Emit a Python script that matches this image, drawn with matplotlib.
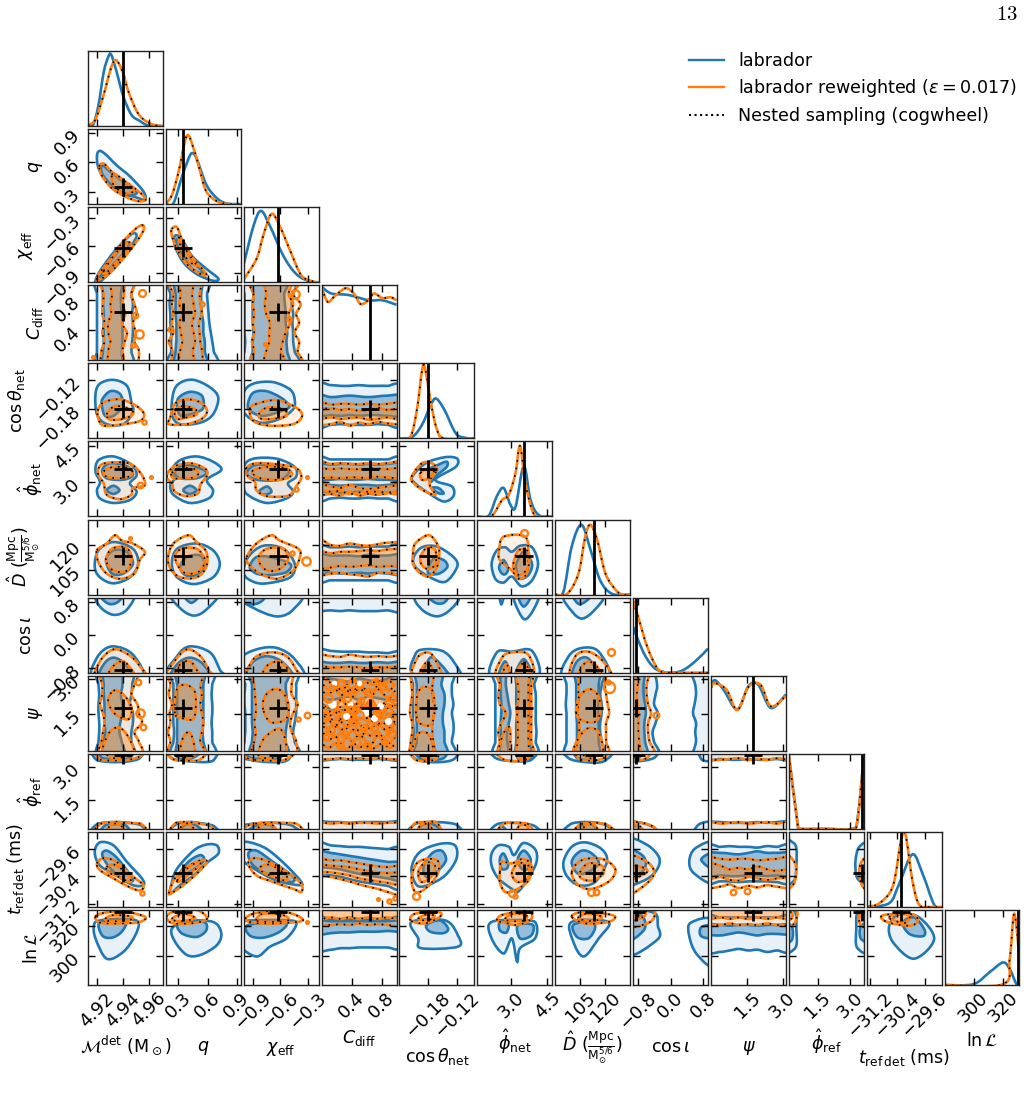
import numpy as np
import matplotlib
matplotlib.use("Agg")
import matplotlib.pyplot as plt
from matplotlib.path import Path
from matplotlib.patches import PathPatch
from matplotlib.lines import Line2D

# parameter order, plot ranges, injected values
names = ['Mc', 'q', 'chi', 'C', 'cth', 'phn', 'D', 'ci', 'psi', 'phr', 't', 'L']
labels = [r'$\mathcal{M}^{\rm det}$ (M$_\odot$)', r'$q$', r'$\chi_{\rm eff}$', r'$C_{\rm diff}$',
          r'$\cos\theta_{\rm net}$', r'$\hat{\phi}_{\rm net}$',
          r'$\hat{D}$ $(\frac{\rm Mpc}{\rm M_{\odot}^{5/6}})$', r'$\cos\iota$', r'$\psi$',
          r'$\hat{\phi}_{\rm ref}$', r'$t_{\rm ref\,det}$ (ms)', r'$\ln\mathcal{L}$']
lows = [4.913, 0.173, -0.998, 0.0, -0.24, 1.58, 90.0, -0.91, -0.05, 0.15, -31.3, 280.7]
highs = [4.971, 0.94, -0.18, 1.0, -0.085, 4.71, 135.0, 0.91, 3.14, 3.63, -29.1, 330.7]
truths = [4.94, 0.35, -0.62, 0.64, -0.18, 3.54, 113.4, -0.85, 1.75, 3.55, -30.3, 329.5]
ticks = [[4.92, 4.94, 4.96], [0.3, 0.6, 0.9], [-0.9, -0.6, -0.3], [0.4, 0.8], [-0.18, -0.12],
         [3.0, 4.5], [105, 120], [-0.8, 0.0, 0.8], [1.5, 3.0], [1.5, 3.0], [-31.2, -30.4, -29.6], [300, 320]]
tick_text = [['4.92', '4.94', '4.96'], ['0.3', '0.6', '0.9'], ['\u22120.9', '\u22120.6', '\u22120.3'],
             ['0.4', '0.8'], ['\u22120.18', '\u22120.12'], ['3.0', '4.5'], ['105', '120'],
             ['\u22120.8', '0.0', '0.8'], ['1.5', '3.0'], ['1.5', '3.0'],
             ['\u221231.2', '\u221230.4', '\u221229.6'], ['300', '320']]
xlabel_pads = [2, 12, 5, 4, 4, 4, 2, 4, 12, 4, 4, 4]

# marginals: flat x,y pairs, x in percent of the range, y in percent of panel height
marg_blue = [
    [0,0, 7,2, 14,28, 21,72, 27,92, 31,95, 38,73, 47,40, 58,15, 69,7, 80,1, 100,0],
    [0,0, 10,1, 21,35, 30,60, 35,68, 41,61, 54,26, 68,8, 81,1, 100,0],
    [0,24, 13,75, 23,95, 35,75, 53,35, 70,11, 88,1, 100,0],
    [0,98, 13,89, 36,87, 63,80, 81,80, 100,74],
    [0,0, 17,2, 30,18, 42,45, 49,53, 60,38, 75,7, 87,1, 100,0],
    [0,0, 15,1, 26,27, 35,38, 44,16, 51,13, 62,67, 71,22, 82,2, 100,0],
    [0,0, 11,4, 22,64, 35,93, 47,60, 60,19, 76,1, 100,0],
    [0,61, 6,45, 17,21, 30,5, 48,0, 66,3, 84,16, 100,32],
    [0,84, 5,94, 17,81, 35,55, 50,86, 63,88, 80,57, 100,75],
    [0,98, 12,4, 15,0, 50,0, 85,0, 92,15, 100,95],
    [0,0, 30,5, 43,30, 61,70, 75,43, 90,3, 100,0],
    [0,0, 38,1, 60,17, 78,30, 87,21, 96,1, 100,0],
]
marg_orange = [
    [0,1, 10,9, 21,42, 30,75, 37,88, 46,73, 54,46, 65,20, 74,9, 87,2, 100,0],
    [0,1, 8,12, 17,43, 28,91, 37,74, 46,43, 54,17, 68,4, 85,0, 100,0],
    [0,4, 17,31, 26,62, 37,91, 48,75, 62,42, 77,9, 93,1, 100,0],
    [0,98, 8,78, 18,86, 32,96, 43,89, 52,75, 62,80, 70,89, 81,83, 92,84, 100,80],
    [0,0, 15,3, 24,43, 30,90, 34,94, 42,47, 50,12, 60,0, 100,0],
    [0,0, 19,1, 33,22, 42,29, 51,58, 57,94, 64,45, 75,4, 88,0, 100,0],
    [0,0, 16,1, 31,28, 40,77, 47,93, 56,73, 67,28, 81,6, 90,0, 100,0],
    [0,96, 8,70, 19,34, 33,5, 48,0, 75,0, 100,0],
    [0,84, 5,90, 21,81, 35,54, 50,85, 66,88, 80,59, 100,73],
    [0,98, 12,4, 15,0, 50,0, 85,0, 92,15, 100,95],
    [0,0, 17,5, 35,28, 46,90, 52,95, 61,35, 70,3, 85,0, 100,0],
    [0,0, 78,1, 87,35, 93,95, 100,35],
]

TOP = [108] * 9
BOT = [-8] * 9
band_pos = [-5, 12, 25, 37, 50, 62, 75, 88, 105]


def H(top, bot):
    # horizontal band from its upper and lower edge, read across the panel
    return [v for x, y in zip(band_pos, top) for v in (x, y)] + [v for x, y in zip(band_pos[::-1], bot[::-1]) for v in (x, y)]


def V(left, right):
    # vertical band from its left and right edge, read up the panel
    return [v for x, y in zip(right, band_pos) for v in (x, y)] + [v for x, y in zip(left[::-1], band_pos[::-1]) for v in (x, y)]


# credible regions per (row, col): closed outlines as flat x,y percent pairs
blue90 = {
    (1,0): [[12,65, 16,71, 25,65, 38,52, 56,37, 74,17, 76,6, 61,10, 43,15, 25,30, 14,48]],
    (2,0): [[10,2, 16,15, 36,42, 58,64, 65,62, 58,49, 38,22, 20,4, 12,-2]],
    (2,1): [[12,62, 21,58, 35,35, 54,18, 70,5, 63,2, 41,11, 23,27, 12,49]],
    (3,0): [V([13,12,12,12,12,12,12,12,12], [58,58,59,60,60,59,60,58,58])],
    (3,1): [V([6,7,7,7,6,6,5,6,5], [66,64,62,60,58,57,56,55,55])],
    (3,2): [V([1,1,2,1,1,1,1,1,1], [70,68,66,66,65,66,64,66,65])],
    (4,0): [[10,59, 16,73, 34,78, 52,70, 58,48, 60,35, 47,19, 25,19, 12,32]],
    (4,1): [[10,61, 19,74, 37,78, 59,68, 70,54, 63,32, 46,21, 19,19, 8,32]],
    (4,2): [[0,61, 13,73, 39,75, 62,65, 68,52, 66,39, 48,26, 22,21, 0,35]],
    (4,3): [H([70,71,70,70,71,70,70,70,69], [18,18,19,18,18,18,19,18,18])],
    (5,0): [[10,60, 14,75, 34,80, 58,69, 65,55, 56,44, 65,33, 56,22, 34,18, 16,24, 12,35, 16,46]],
    (5,1): [[8,62, 19,75, 41,80, 63,73, 74,62, 55,49, 63,35, 57,24, 32,18, 10,29, 6,42, 12,51]],
    (5,2): [[0,66, 13,77, 44,77, 68,66, 70,53, 59,44, 66,33, 57,24, 31,18, 8,27, 0,38]],
    (5,3): [H([76,76,76,76,76,76,76,76,76], [24,24,25,24,24,25,24,24,24])],
    (5,4): [[17,53, 35,71, 61,79, 77,77, 75,66, 48,49, 70,40, 72,27, 59,20, 39,31, 21,44]],
    (6,0): [[9,37, 14,59, 34,70, 60,61, 67,41, 56,23, 34,15, 16,23]],
    (6,1): [[8,41, 15,61, 41,68, 63,59, 72,41, 63,23, 37,14, 15,23]],
    (6,2): [[0,28, 6,50, 26,65, 53,61, 68,41, 62,23, 31,15, 13,17]],
    (6,3): [H([63,63,63,64,63,64,64,64,64], [19,19,19,19,19,19,19,19,19])],
    (6,4): [[19,50, 30,63, 50,64, 72,50, 77,37, 61,17, 39,24, 21,37]],
    (6,5): [[19,41, 26,59, 37,63, 46,57, 57,65, 73,63, 81,41, 73,19, 59,11, 46,24, 35,16, 24,21]],
    (7,0): [[12,106, 16,88, 34,77, 52,84, 60,106], [8,-9, 12,20, 32,35, 60,24, 72,-9]],
    (7,1): [[8,106, 19,86, 37,76, 54,84, 68,106], [1,-9, 15,22, 32,35, 59,27, 72,4, 77,-9]],
    (7,2): [[-5,108, -5,97, 26,80, 48,75, 66,84, 75,106], [-5,-9, -5,18, 17,31, 44,33, 68,18, 77,-9]],
    (7,3): [H(TOP, [84,83,82,83,82,82,82,83,82]), H([29,29,28,28,28,27,27,26,26], BOT)],
    (7,4): [[23,102, 30,84, 50,75, 68,84, 77,102], [19,-2, 21,24, 32,31, 57,29, 72,15, 79,-7]],
    (7,5): [[29,108, 32,91, 36,108], [50,102, 55,82, 64,71, 75,84, 80,102], [19,-7, 26,27, 46,28, 73,29, 80,-7]],
    (7,6): [[13,102, 22,82, 36,72, 53,84, 62,102], [11,-7, 18,22, 36,33, 58,28, 71,-7]],
    (8,0): [V([14,14,15,15,14,14,15,14,14], [60,58,58,60,60,56,58,59,58])],
    (8,1): [V([10,10,11,10,10,10,10,10,10], [64,62,62,61,62,62,61,62,62])],
    (8,2): [V([2,1,2,2,2,1,1,2,2], [70,68,66,68,70,70,70,70,68])],
    (8,3): [H(TOP, BOT)],
    (8,4): [V([19,18,19,18,18,18,18,18,19], [72,70,72,72,70,72,70,70,70])],
    (8,5): [V([24,24,24,24,24,24,24,24,24], [78,78,79,78,78,78,78,76,76])],
    (8,6): [V([15,15,15,15,15,14,15,15,15], [62,62,60,60,62,62,60,62,62])],
    (8,7): [V(BOT, [33,28,26,30,33,28,30,32,25]), V([82,84,83,84,80,82,84,83,80], TOP)],
    (9,0): [[10,108, 10,93, 30,89, 55,90, 70,95, 70,108], [8,-8, 12,6, 35,9, 55,8, 72,4, 74,-8]],
    (9,1): [[5,108, 8,94, 30,90, 55,89, 65,93, 66,108], [8,-8, 12,5, 30,9, 50,7, 65,3, 67,-8]],
    (9,2): [[-5,108, -5,96, 20,90, 50,89, 62,95, 64,108], [-5,-8, -5,3, 15,7, 40,8, 65,4, 70,-8]],
    (9,3): [H(TOP, [92,92,93,92,92,92,93,92,92]), H([9,9,9,8,9,9,9,9,9], BOT)],
    (9,4): [[16,108, 20,94, 40,89, 65,90, 76,96, 78,108], [15,-8, 20,6, 40,9, 65,8, 78,4, 80,-8]],
    (9,5): [[20,108, 25,94, 50,90, 72,92, 78,108], [20,-8, 26,6, 50,8, 76,4, 80,-8]],
    (9,6): [[14,108, 18,94, 40,89, 65,90, 76,108], [14,-8, 20,6, 40,9, 65,6, 80,-8]],
    (9,7): [[-8,108, -8,91, 15,91, 30,96, 32,108], [-8,-8, -8,9, 15,7, 30,0, 30,-8],
            [82,-8, 88,6, 108,9, 108,-8], [88,108, 92,92, 108,92, 108,108]],
    (9,8): [H(TOP, [92,93,92,92,93,92,92,93,92]), H([8,9,8,8,8,9,8,9,9], BOT)],
    (10,0): [[9,73, 16,86, 34,82, 52,60, 72,38, 74,29, 60,29, 38,42, 16,55]],
    (10,1): [[8,33, 15,51, 37,75, 54,83, 68,82, 70,71, 54,58, 37,42, 19,29, 6,18]],
    (10,2): [[-3,84, 8,86, 31,77, 57,55, 77,33, 73,29, 44,35, 17,49, -3,64]],
    (10,3): [H([84,82,81,80,80,79,78,77,76], [46,42,40,37,34,32,30,28,26])],
    (10,4): [[16,51, 27,73, 54,84, 74,82, 76,64, 61,42, 38,29, 23,29]],
    (10,5): [[19,71, 28,82, 42,80, 49,69, 61,85, 77,77, 79,60, 68,38, 54,20, 46,24, 28,38, 19,55]],
    (10,6): [[11,60, 22,80, 40,86, 62,77, 69,60, 53,33, 31,29, 15,42]],
    (10,7): [[-8,88, 18,83, 35,65, 30,47, 12,34, -8,33], [108,84, 83,78, 75,61, 81,45, 108,33]],
    (10,8): [H([80,80,81,80,80,79,81,80,80], [34,34,34,33,34,34,34,33,34])],
    (10,9): [[-8,88, 5,86, 10,78, 10,55, 7,35, -8,33], [108,83, 94,80, 89,62, 90,42, 96,34, 108,33]],
    (11,0): [[8,80, 10,62, 25,35, 47,44, 63,66, 67,84, 47,88, 16,86]],
    (11,1): [[8,75, 12,58, 28,40, 46,40, 68,53, 74,69, 63,84, 28,85]],
    (11,2): [[-5,53, 17,38, 35,51, 57,62, 70,80, 62,86, 8,86, -5,80]],
    (11,3): [H([88,88,88,88,88,88,88,88,88], [48,47,49,49,50,50,50,50,50])],
    (11,4): [[16,84, 25,62, 29,49, 78,51, 78,66, 61,86]],
    (11,5): [[19,84, 19,62, 35,42, 46,62, 53,31, 57,49, 77,62, 79,80, 68,86]],
    (11,6): [[22,84, 24,58, 38,38, 58,62, 71,84]],
    (11,7): [[-8,40, 33,61, 33,79, 28,96, -8,96], [108,85, 77,83, 75,65, 85,41, 108,26]],
    (11,8): [H([90,90,90,90,90,90,90,90,90], [46,44,46,48,46,47,44,46,46])],
    (11,9): [[-8,100, 8,98, 10,75, 9,50, -8,46], [108,105, 92,98, 90,75, 91,50, 108,46]],
    (11,10): [[30,79, 35,57, 63,35, 90,61, 70,90, 43,94]],
}
blue50 = {
    (1,0): [[19,52, 30,43, 47,30, 65,17, 58,12, 41,17, 25,32, 18,43]],
    (2,0): [[16,7, 25,22, 47,49, 54,53, 52,44, 34,24, 21,9]],
    (2,1): [[15,58, 23,49, 37,27, 50,13, 39,15, 26,29, 15,49]],
    (3,0): [V([20,20,21,21,21,21,20,20,20], [44,45,46,46,46,45,44,44,44])],
    (3,1): [V([14,13,14,14,14,13,13,13,13], [53,52,52,50,50,48,47,47,46])],
    (3,2): [V([12,12,12,13,12,12,12,13,12], [58,58,57,58,56,56,55,54,56])],
    (4,0): [[19,52, 30,63, 43,59, 46,43, 34,30, 23,30, 19,41]],
    (4,1): [[17,54, 32,62, 48,57, 50,41, 41,35, 21,30, 15,41]],
    (4,2): [[6,48, 13,61, 30,63, 50,54, 61,43, 52,37, 26,30, 8,37]],
    (4,3): [H([57,55,56,57,56,55,56,57,56], [31,31,30,31,30,31,31,30,31])],
    (5,0): [[19,62, 30,71, 54,66, 60,55, 47,49, 25,51], [25,35, 34,41, 42,35, 34,30]],
    (5,1): [[12,60, 26,69, 46,64, 55,58, 41,51, 19,51], [23,35, 32,41, 41,35, 32,30]],
    (5,2): [[4,58, 17,69, 48,66, 61,60, 48,49, 17,49], [20,33, 31,40, 37,33, 28,29]],
    (5,3): [H([70,69,70,70,69,70,69,70,70], [49,49,50,49,49,50,49,49,49]), H([42,42,41,42,42,42,41,42,42], [33,33,32,32,33,32,33,32,33])],
    (5,4): [[39,62, 52,69, 63,73, 63,66, 50,55, 41,46], [43,38, 52,38, 59,31, 52,31]],
    (6,0): [[24,46, 34,59, 52,57, 60,41, 47,28, 32,28]],
    (6,1): [[19,37, 28,50, 46,52, 52,37, 41,26, 26,26]],
    (6,2): [[8,37, 17,50, 35,50, 62,41, 57,30, 35,26, 17,28]],
    (6,3): [H([53,52,52,52,51,53,52,52,52], [29,29,28,28,29,28,29,28,28])],
    (6,4): [[39,37, 46,48, 59,46, 64,37, 53,28, 39,28]],
    (6,5): [[29,37, 35,46, 41,34, 37,27, 32,29], [52,41, 62,57, 73,41, 68,26, 57,21, 53,30]],
    (7,0): [[18,102, 27,92, 38,93, 45,102], [16,-9, 21,11, 34,20, 50,11, 58,-9]],
    (7,1): [[23,106, 34,93, 46,106], [8,-9, 15,11, 32,20, 50,11, 57,-9]],
    (7,2): [[-5,95, 13,91, 26,97, 26,106, -5,106], [6,-9, 11,13, 31,22, 53,13, 64,-9]],
    (7,3): [H([13,13,13,14,13,13,14,13,13], BOT)],
    (7,4): [[39,102, 48,93, 59,93, 64,102], [32,-7, 41,20, 55,11, 66,-7]],
    (7,5): [[55,102, 62,88, 71,102], [28,-7, 37,15, 44,-7], [50,-7, 62,18, 73,-7]],
    (7,6): [[25,102, 33,91, 47,102], [24,-7, 29,15, 44,19, 58,-7]],
    (8,0): [V([21,21,23,22,22,22,21,21,21], [48,45,42,43,46,46,44,46,44])],
    (8,1): [V([16,15,15,15,15,15,15,15,15], [51,50,49,50,50,50,50,50,50])],
    (8,2): [V([11,11,12,11,11,11,11,11,10], [57,56,56,58,60,58,57,56,58])],
    (8,3): [H([100,96,94,92,96,94,92,96,100], [72,68,70,72,68,72,70,68,70]), H([58,56,54,56,58,54,56,58,56], BOT)],
    (8,4): [V([22,23,23,23,22,23,23,23,23], [62,60,60,58,58,60,60,56,56])],
    (8,5): [V([30,31,31,31,32,32,31,31,31], [42,40,40,42,44,42,40,38,38]), V([52,52,52,52,53,52,52,52,52], [71,70,70,70,70,70,70,70,70])],
    (8,6): [V([28,29,29,29,28,28,28,28,28], [58,58,58,58,57,58,58,58,58])],
    (8,7): [V(BOT, [18,16,15,15,17,16,14,14,14])],
    (9,0): [[18,108, 18,95, 35,93, 55,94, 60,108], [18,-8, 22,4, 35,6, 50,5, 55,-8]],
    (9,1): [[12,108, 15,96, 35,94, 50,108], [18,-8, 25,5, 40,5, 50,-8]],
    (9,2): [[0,108, 8,95, 35,93, 50,96, 52,108], [5,-8, 15,4, 35,5, 45,-8]],
    (9,4): [[22,108, 26,95, 45,92, 60,95, 62,108], [25,-8, 30,5, 45,6, 60,-8]],
    (9,5): [[52,108, 55,93, 70,94, 72,108], [28,-8, 32,4, 42,-8]],
    (9,6): [[25,108, 30,94, 50,93, 56,108], [25,-8, 32,4, 50,5, 56,-8]],
    (9,7): [[-8,108, -8,95, 8,95, 12,108], [-8,-8, -8,4, 8,3, 12,-8]],
    (10,0): [[19,69, 25,75, 38,66, 54,46, 60,35, 49,35, 30,51]],
    (10,1): [[17,42, 30,60, 46,69, 51,62, 39,51, 23,42]],
    (10,2): [[6,71, 17,75, 39,60, 66,40, 62,33, 35,42, 13,55]],
    (10,3): [H([74,72,70,68,66,64,62,60,58], [55,52,50,47,44,42,40,38,36])],
    (10,4): [[32,53, 43,71, 56,75, 62,62, 49,46, 36,40]],
    (10,5): [[30,64, 35,71, 41,58, 39,51, 32,51], [54,64, 62,75, 71,64, 68,51, 59,51]],
    (10,6): [[22,60, 33,74, 46,73, 58,60, 49,49, 31,44]],
    (10,7): [[-8,76, 12,69, 17,56, 8,43, -8,43], [108,72, 91,63, 108,50]],
    (10,8): [H([70,72,71,70,72,74,72,72,70], [42,42,41,41,42,42,41,42,42])],
    (11,0): [[16,84, 19,66, 32,63, 45,71, 49,84]],
    (11,1): [[17,82, 21,69, 41,64, 54,73, 50,84]],
    (11,2): [[6,80, 8,66, 26,63, 48,71, 55,83]],
    (11,3): [H([85,85,85,85,85,85,85,85,85], [68,69,70,70,71,71,71,72,72])],
    (11,4): [[36,80, 41,71, 58,69, 65,75, 54,86]],
    (11,5): [[30,84, 30,73, 39,70, 42,84], [54,80, 57,62, 72,66, 74,80]],
    (11,6): [[24,80, 29,64, 44,62, 53,75, 49,84]],
    (11,7): [[-8,59, 15,74, 12,92, -8,94], [108,79, 91,77, 91,65, 108,63]],
    (11,8): [H([80,80,79,80,80,79,80,80,80], [68,66,68,70,68,66,68,68,68])],
    (11,9): [[-8,82, 4,78, 4,60, -8,58], [108,82, 96,78, 96,62, 108,58]],
    (11,10): [[48,83, 57,68, 75,65, 77,74, 63,90]],
}
orange90 = {
    (1,0): [[15,50, 21,54, 32,43, 50,30, 70,15, 77,6, 67,4, 50,10, 32,21, 19,37]],
    (2,0): [[12,7, 30,31, 52,60, 69,75, 75,73, 69,60, 50,35, 30,13, 16,4]],
    (2,1): [[8,71, 15,73, 23,53, 37,31, 54,11, 46,11, 28,24, 15,44, 8,62]],
    (3,0): [V([21,18,22,19,22,19,20,21,19], [62,68,62,64,60,65,62,58,60])],
    (3,1): [V([10,9,4,10,8,10,8,10,6], [46,48,46,45,44,48,46,45,44])],
    (3,2): [V([12,14,11,14,12,14,12,13,12], [75,72,74,68,74,70,76,66,70])],
    (4,0): [[13,37, 21,48, 43,52, 65,43, 75,32, 69,23, 47,19, 21,17, 14,26]],
    (4,1): [[6,28, 12,46, 28,52, 46,48, 55,37, 48,26, 28,19, 4,19]],
    (4,2): [[8,39, 17,46, 44,51, 70,41, 78,30, 66,19, 35,17, 13,23]],
    (4,3): [H([47,45,46,46,45,46,45,46,46], [20,19,22,17,21,19,22,20,21])],
    (5,0): [[14,64, 23,71, 54,71, 70,58, 76,42, 60,38, 58,29, 43,23, 25,29, 21,44, 14,55]],
    (5,1): [[1,53, 10,66, 32,71, 52,64, 55,55, 46,42, 43,31, 28,27, 12,33, 8,44]],
    (5,2): [[3,64, 19,71, 66,66, 77,53, 70,40, 66,33, 57,27, 31,27, 17,35, 15,46, 6,53]],
    (5,3): [H([71,70,71,70,70,71,70,71,70], [32,30,28,33,28,30,29,31,33])],
    (5,4): [[16,53, 30,71, 43,71, 50,62, 41,49, 41,40, 48,29, 35,33, 19,44]],
    (6,0): [[12,59, 25,68, 36,79, 45,72, 60,68, 76,57, 69,46, 62,28, 43,21, 25,28, 14,43]],
    (6,1): [[3,50, 10,68, 30,79, 41,70, 54,57, 54,37, 41,23, 19,23, 6,35]],
    (6,2): [[4,50, 17,68, 37,79, 48,72, 73,61, 75,50, 66,32, 44,21, 22,28, 8,39]],
    (6,3): [H([72,66,65,68,66,65,67,69,66], [29,28,29,27,26,24,29,29,30])],
    (6,4): [[18,54, 21,68, 37,79, 46,74, 53,59, 50,37, 39,24, 26,30, 18,41]],
    (6,5): [[29,59, 35,77, 64,77, 68,50, 66,28, 55,21, 46,32, 30,46]],
    (7,0): [[13,-9, 16,15, 34,31, 54,24, 69,9, 76,-9]],
    (7,1): [[1,-9, 10,13, 28,31, 46,22, 57,4, 61,-9]],
    (7,2): [[8,-9, 13,18, 35,27, 57,22, 70,4, 75,-9]],
    (7,3): [H([22,22,21,24,22,21,22,21,20], BOT), H(TOP, [104,104,104,104,104,104,104,104,104])],
    (7,4): [[17,-7, 24,20, 37,27, 46,20, 55,-7]],
    (7,5): [[26,-7, 33,20, 46,27, 68,24, 73,-7]],
    (7,6): [[22,-7, 27,22, 44,28, 64,15, 73,-7]],
    (8,0): [V([18,18,20,22,20,16,19,19,18], [70,68,62,72,68,66,58,62,64])],
    (8,1): [V([5,6,3,6,5,8,4,6,6], [51,46,48,50,48,46,48,46,48])],
    (8,2): [V([14,14,16,14,16,16,15,14,14], [66,70,64,62,66,72,64,64,62])],
    (8,3): [H(TOP, BOT)],
    (8,4): [V([16,15,17,17,14,15,17,16,17], [46,45,44,44,46,46,44,44,44])],
    (8,5): [V([30,30,28,32,38,30,28,30,28], [73,72,72,72,72,72,72,72,72])],
    (8,6): [V([30,30,32,32,30,31,31,31,34], [70,68,68,68,72,70,68,66,66])],
    (8,7): [V(BOT, [28,22,20,20,24,20,18,18,20])],
    (9,0): [[14,108, 15,93, 35,91, 55,92, 72,98, 72,108], [12,-8, 16,6, 35,9, 50,8, 72,6, 74,-8]],
    (9,1): [[5,108, 7,94, 25,91, 45,92, 55,108], [8,-8, 12,7, 28,9, 45,7, 60,3, 62,-8]],
    (9,2): [[0,108, 5,94, 30,91, 55,92, 70,108], [0,-8, 5,4, 25,8, 50,8, 72,6, 74,-8]],
    (9,3): [H(TOP, [94,93,94,93,94,93,94,93,94]), H([8,7,8,7,8,8,7,8,7], BOT)],
    (9,4): [[16,108, 20,93, 35,90, 50,94, 52,108], [16,-8, 20,7, 35,9, 50,8, 54,-8]],
    (9,5): [[26,108, 32,94, 50,90, 68,94, 72,108], [28,-8, 34,6, 50,8, 68,6, 72,-8]],
    (9,6): [[28,108, 32,93, 50,91, 66,95, 70,108], [28,-8, 32,5, 50,8, 70,5, 78,-8]],
    (9,7): [[-8,108, -8,93, 12,92, 22,98, 24,108], [-8,-8, -8,8, 12,8, 28,2, 30,-8]],
    (9,8): [H(TOP, [93,92,93,94,92,93,92,94,93]), H([9,7,8,9,7,8,9,7,9], BOT)],
    (10,0): [[12,58, 21,65, 38,60, 58,42, 74,29, 69,22, 54,27, 34,38, 16,49]],
    (10,1): [[4,18, 12,38, 28,53, 46,62, 55,60, 43,46, 26,31, 10,20]],
    (10,2): [[6,58, 17,65, 44,55, 75,33, 77,20, 66,24, 40,33, 17,42]],
    (10,3): [H([63,62,62,60,58,56,54,53,52], [44,40,37,34,30,27,24,20,18])],
    (10,4): [[16,38, 23,58, 39,64, 52,60, 50,42, 34,24, 21,20]],
    (10,5): [[30,46, 32,60, 46,58, 61,64, 72,55, 68,35, 50,22, 37,20, 30,33]],
    (10,6): [[22,46, 35,62, 62,64, 80,51, 73,35, 49,24, 31,29]],
    (10,7): [[-8,66, 17,61, 28,47, 19,32, -8,18]],
    (10,8): [H([64,64,63,64,64,62,63,64,64], [28,27,30,25,28,26,29,27,28])],
    (10,9): [[-8,70, 6,62, 10,48, 6,30, -8,24], [108,66, 97,60, 94,45, 98,28, 108,24]],
    (11,0): [[10,91, 21,96, 47,98, 76,91, 69,84, 43,82, 16,83]],
    (11,1): [[1,91, 12,98, 41,100, 55,89, 41,83, 10,82]],
    (11,2): [[2,88, 17,96, 57,97, 79,86, 44,82, 13,83]],
    (11,3): [H(TOP, [82,80,81,80,82,80,81,80,80])],
    (11,4): [[15,86, 21,95, 52,97, 54,91, 34,82]],
    (11,5): [[26,86, 35,94, 68,98, 72,88, 54,80, 37,83]],
    (11,6): [[22,91, 35,97, 66,95, 80,91, 71,84, 40,82]],
    (11,7): [[-8,78, 21,83, 29,94, 24,108, -8,108]],
    (11,8): [H(TOP, [82,80,82,80,81,80,82,80,82])],
    (11,9): [[-8,108, 10,100, 10,88, 5,80, -8,78], [108,108, 95,100, 94,85, 98,78, 108,78]],
    (11,10): [[19,90, 28,94, 61,94, 68,85, 57,79, 30,83]],
}
orange50 = {
    (1,0): [[32,39, 38,39, 54,26, 61,17, 47,15, 34,26]],
    (2,0): [[21,15, 38,40, 54,53, 56,46, 38,27, 25,13]],
    (2,1): [[17,60, 23,49, 35,31, 41,22, 30,29, 21,44]],
    (3,0): [V([28,27,30,27,27,31,30,32,30], [47,46,49,52,45,50,46,48,47])],
    (3,1): [V([18,19,22,20,18,22,18,20,18], [37,36,39,37,35,39,37,35,36])],
    (3,2): [V([28,30,34,34,35,30,28,30,30], [55,50,52,56,62,60,66,60,62])],
    (4,0): [[25,32, 36,43, 56,39, 60,32, 47,26, 30,25]],
    (4,1): [[12,37, 23,43, 39,39, 41,32, 28,28, 15,26]],
    (4,2): [[20,32, 31,41, 53,39, 57,30, 40,26, 24,26]],
    (4,3): [H([38,40,38,39,37,38,41,38,39], [26,28,26,27,28,25,26,28,26])],
    (5,0): [[21,60, 34,66, 56,64, 58,55, 43,51, 25,53]],
    (5,1): [[8,58, 23,65, 41,62, 41,53, 23,51, 10,51]],
    (5,2): [[11,60, 31,66, 57,64, 64,55, 48,49, 22,51]],
    (5,3): [H([64,63,64,63,63,64,64,63,64], [52,52,51,52,52,51,53,52,52]), H([44,40,38,42,38,37,38,40,41], [36,33,34,30,32,33,33,32,35])],
    (5,4): [[28,58, 39,64, 46,60, 39,51, 30,49]],
    (6,0): [[24,46, 32,61, 50,63, 58,50, 52,32, 34,32]],
    (6,1): [[12,50, 21,61, 41,61, 52,46, 43,30, 23,30]],
    (6,2): [[20,50, 31,61, 53,61, 59,46, 44,32, 26,35]],
    (6,3): [H([57,55,57,57,58,59,58,60,59], [36,36,38,37,38,39,37,38,39])],
    (6,4): [[28,50, 37,63, 48,59, 48,41, 39,34, 30,39]],
    (6,5): [[48,41, 55,59, 68,57, 68,37, 57,26, 50,32]],
    (7,0): [[27,-9, 34,9, 47,15, 58,4, 63,-9]],
    (7,1): [[12,-9, 19,11, 32,15, 41,4, 46,-9]],
    (7,2): [[26,-9, 31,9, 48,15, 59,4, 61,-9]],
    (7,3): [H([8,7,7,8,7,6,7,7,7], BOT)],
    (7,4): [[26,-7, 35,13, 42,9, 48,-7]],
    (7,5): [[33,-7, 39,11, 44,-7], [50,-7, 62,13, 71,-7]],
    (7,6): [[31,-7, 40,13, 53,11, 62,-7]],
    (8,0): [[34,80, 47,75, 58,58, 54,42, 36,49, 27,66], [21,-5, 27,22, 41,31, 54,18, 60,-5]],
    (8,1): [[12,50, 14,80, 25,88, 38,80, 40,58, 36,42, 20,44], [20,-5, 22,15, 30,25, 36,15, 38,-5]],
    (8,2): [[26,55, 28,72, 40,82, 52,78, 60,60, 56,42, 36,38], [22,-5, 26,15, 42,28, 50,28, 56,12, 54,-5]],
    (8,3): [H(TOP, [62,60,58,60,62,58,60,62,60]), H([44,42,40,42,44,40,42,44,42], BOT)],
    (8,4): [[22,50, 24,75, 32,85, 44,80, 47,55, 42,35, 28,36], [18,-5, 22,18, 30,25, 40,20, 44,-5]],
    (8,5): [V([52,54,54,54,53,54,55,54,52], [68,68,68,68,68,68,68,68,68]), [28,-5, 32,15, 40,32, 44,25, 42,-5]],
    (8,6): [[28,50, 32,72, 46,82, 58,72, 60,50, 52,38, 36,40], [26,-5, 30,15, 44,30, 58,24, 62,-5]],
    (8,7): [V(BOT, [9,8,7,7,7,6,5,6,5])],
    (9,0): [[25,108, 28,96, 45,95, 55,108], [26,-8, 30,5, 42,6, 50,-8]],
    (9,1): [[15,108, 18,97, 35,96, 42,108], [18,-8, 22,5, 32,6, 40,-8]],
    (9,2): [[18,108, 22,96, 40,95, 48,108], [18,-8, 22,4, 38,5, 44,-8]],
    (9,4): [[28,108, 30,96, 42,95, 46,108], [25,-8, 28,5, 40,5, 44,-8]],
    (9,5): [[52,108, 55,95, 66,96, 68,108], [52,-8, 56,4, 66,4, 68,-8]],
    (9,6): [[35,108, 40,96, 52,95, 58,108], [36,-8, 40,4, 52,5, 58,-8]],
    (9,7): [[-8,108, -8,97, 6,97, 8,108], [-8,-8, -8,4, 8,4, 14,-8]],
    (10,0): [[25,53, 36,56, 54,42, 56,33, 41,40, 27,46]],
    (10,1): [[15,35, 26,49, 41,59, 46,56, 32,44, 21,35]],
    (10,2): [[22,53, 35,56, 55,44, 57,35, 40,40, 26,46]],
    (10,3): [H([56,55,54,53,50,48,46,45,45], [47,46,44,42,38,36,34,32,30])],
    (10,4): [[25,46, 34,59, 47,56, 44,42, 30,33]],
    (10,5): [[46,44, 54,58, 68,55, 68,40, 54,33]],
    (10,6): [[33,46, 44,58, 62,55, 64,44, 49,35, 35,38]],
    (10,7): [[-8,54, 15,52, 17,45, -8,36]],
    (10,8): [H([58,55,50,52,50,54,50,48,50], [38,40,36,35,40,38,36,38,40])],
    (11,0): [[23,88, 34,93, 58,91, 54,86, 30,85]],
    (11,1): [[8,88, 23,95, 39,89, 19,85]],
    (11,2): [[17,86, 26,95, 53,93, 59,86, 35,84]],
    (11,3): [H([100,100,100,100,100,100,100,100,100], [88,90,88,90,88,90,88,90,88])],
    (11,4): [[25,88, 36,94, 47,92, 38,86]],
    (11,5): [[37,88, 48,95, 65,93, 63,86, 46,85]],
    (11,6): [[31,89, 42,95, 62,91, 51,85]],
    (11,7): [[-8,85, 12,90, 17,96, 14,108, -8,108]],
    (11,8): [H([102,102,102,102,102,102,102,102,102], [88,90,88,90,88,90,88,90,88])],
    (11,9): [[-8,100, 4,96, 3,88, -8,86], [108,100, 98,96, 98,88, 108,86]],
    (11,10): [[30,90, 41,96, 57,92, 52,83, 39,85]],
}

# isolated reweighted-sample islands per panel: x, y, marker size
orange_specks = {
    (3,0): [(72,90,5), (63,60,4), (68,35,6), (60,20,3), (7,5,2)],
    (3,1): [(5,42,3), (48,75,3)],
    (3,2): [(68,88,6), (60,55,3), (28,22,2)],
    (4,0): [(75,22,3)],
    (5,0): [(84,52,2), (70,42,4)],
    (5,2): [(84,52,2), (70,36,3)],
    (6,0): [(56,76,2)],
    (6,2): [(83,45,6), (65,55,3)],
    (6,5): [(62,82,5)],
    (7,6): [(74,28,5)],
    (8,0): [(70,50,6), (74,31,4), (67,92,4)],
    (8,2): [(84,48,4), (72,42,3)],
    (8,6): [(72,85,8), (70,92,3)],
    (8,7): [(30,48,4)],
    (10,0): [(72,19,3)],
    (10,3): [(75,10,2), (90,8,3), (98,12,3)],
    (10,4): [(22,15,5)],
    (10,5): [(46,18,5), (50,14,3)],
    (10,6): [(48,20,5), (55,20,4)],
    (10,8): [(30,20,4), (48,21,4)],
    (11,2): [(85,84,2)],
}
# squiggles in the poorly constrained C_diff - psi panel
tangle_x = [2, 10, 18, 26, 34, 42, 50, 58, 66, 74, 82, 90, 98]
tangle_y = [
    [98, 92, 86, 94, 88, 96, 85, 92, 88, 95, 87, 93, 86],
    [88, 82, 90, 80, 86, 78, 90, 82, 78, 86, 92, 80, 90],
    [78, 76, 82, 74, 80, 72, 84, 76, 72, 82, 76, 70, 80],
    [70, 64, 58, 68, 60, 56, 66, 60, 68, 58, 62, 68, 60],
    [58, 52, 60, 50, 56, 48, 58, 52, 46, 56, 50, 58, 48],
    [50, 46, 52, 42, 50, 44, 54, 46, 40, 52, 44, 50, 42],
    [36, 40, 32, 38, 30, 42, 36, 30, 40, 34, 38, 30, 40],
    [32, 30, 36, 28, 34, 38, 26, 34, 28, 38, 30, 26, 36],
    [22, 26, 18, 24, 20, 28, 18, 24, 20, 26, 18, 22, 28],
    [16, 14, 20, 10, 18, 12, 22, 14, 8, 20, 14, 10, 18],
    [8, 4, 10, 6, 2, 10, 4, 8, 2, 6, 10, 4, 8],
]
tangle_rings = [(8,70,6), (20,50,6), (34,70,5), (50,48,6), (62,78,5), (88,54,6), (12,28,5), (30,22,5),
                (46,12,6), (70,30,5), (92,24,6), (82,86,5), (56,30,4), (26,90,5), (40,38,5), (94,70,5),
                (14,84,4), (44,82,5), (70,92,4), (4,46,5), (76,50,5), (24,8,5), (60,8,5), (84,12,4),
                (38,56,4), (64,64,4), (6,18,4), (52,68,4)]
pale_spots = [(14,62,6), (32,46,5), (58,52,6), (78,60,5), (16,90,4), (50,90,4), (70,44,5), (38,62,4), (88,40,5)]

# sparse square dots for the nested sampling result on top of the orange lines
NESTED_DOTS = (0, (1, 3.6))


def curve(flat, closed):
    # smooth bezier path through the read points
    p = np.array(flat, dtype=float).reshape(-1, 2)
    n = len(p)
    verts = [p[0]]
    codes = [Path.MOVETO]
    for i in range(n if closed else n - 1):
        if closed:
            p0, p1, p2, p3 = p[i - 1], p[i], p[(i + 1) % n], p[(i + 2) % n]
        else:
            p0, p1, p2, p3 = p[max(i - 1, 0)], p[i], p[i + 1], p[min(i + 2, n - 1)]
        verts += [p1 + (p2 - p0) / 6, p2 - (p3 - p1) / 6, p2]
        codes += [Path.CURVE4] * 3
    return verts, codes


def to_data(flat, cx, cy):
    # percent of the axis span -> parameter units
    xy = np.array(flat, dtype=float).reshape(-1, 2)
    xs = lows[cx] + xy[:, 0] / 100 * (highs[cx] - lows[cx])
    ys = lows[cy] + xy[:, 1] / 100 * (highs[cy] - lows[cy]) if cy is not None else xy[:, 1]
    return np.column_stack([xs, ys]).ravel()


def draw_region(ax, polys, cx, cy, color, fill_alpha, line=True, dots=False):
    for flat in polys:
        v, c = curve(to_data(flat, cx, cy), True)
        path = Path(v, c)
        ax.add_patch(PathPatch(path, fc=color, ec='none', alpha=fill_alpha))
        if line:
            ax.add_patch(PathPatch(path, fc='none', ec=color, lw=1.9))
        if dots:
            ax.add_patch(PathPatch(path, fc='none', ec='black', lw=1.2, ls=NESTED_DOTS))


BLUE = 'tab:blue'
ORANGE = 'tab:orange'

fig = plt.figure(figsize=(10.27, 10.94), dpi=100)
gs = fig.add_gridspec(12, 12, left=88 / 1027, right=1019.5 / 1027, top=1 - 51 / 1094, bottom=1 - 985 / 1094,
                      wspace=0.04, hspace=0.04)
n = len(names)
for row in range(n):
    for col in range(row + 1):
        ax = fig.add_subplot(gs[row, col])
        ax.set_xlim(lows[col], highs[col])
        ax.set_xticks(ticks[col])
        ax.tick_params(direction='in', top=True, right=True, length=5, width=1, labelsize=13, pad=3)
        for s in ax.spines.values():
            s.set_linewidth(1.0)
            s.set_color('#222222')
        if row == col:
            ax.set_ylim(0, 100)
            ax.set_yticks([])
            for marg, color in ((marg_blue, BLUE), (marg_orange, ORANGE)):
                v, c = curve(to_data(marg[col], col, None), False)
                ax.add_patch(PathPatch(Path(v, c), fc='none', ec=color, lw=1.9))
            v, c = curve(to_data(marg_orange[col], col, None), False)
            ax.add_patch(PathPatch(Path(v, c), fc='none', ec='black', lw=1.2, ls=NESTED_DOTS))
            ax.axvline(truths[col], color='black', lw=2)
        else:
            ax.set_ylim(lows[row], highs[row])
            ax.set_yticks(ticks[row])
            key = (row, col)
            draw_region(ax, blue90.get(key, []), col, row, BLUE, 0.1)
            draw_region(ax, blue50.get(key, []), col, row, BLUE, 0.42)
            if key == (8, 3):
                for x, y, s in pale_spots:
                    ax.plot(lows[col] + x / 100 * (highs[col] - lows[col]), lows[row] + y / 100 * (highs[row] - lows[row]),
                            'o', color='white', ms=s, mec='none', zorder=1.5)
            draw_region(ax, orange90.get(key, []), col, row, ORANGE, 0.1, dots=True)
            draw_region(ax, orange50.get(key, []), col, row, ORANGE, 0.36, dots=True)
            if key == (8, 3):
                for ys in tangle_y:
                    flat = [v for pair in zip(tangle_x, ys) for v in pair]
                    v, c = curve(to_data(flat, col, row), False)
                    ax.add_patch(PathPatch(Path(v, c), fc='none', ec=ORANGE, lw=2.2))
                    ax.add_patch(PathPatch(Path(v, c), fc='none', ec='black', lw=1.2, ls=NESTED_DOTS))
            for x, y, s in orange_specks.get(key, []) + (tangle_rings if key == (8, 3) else []):
                ax.plot(lows[col] + x / 100 * (highs[col] - lows[col]), lows[row] + y / 100 * (highs[row] - lows[row]),
                        'o', mfc='none', mec=ORANGE, mew=1.7, ms=s)
            ax.plot(truths[col], truths[row], '+', color='black', ms=13, mew=2, zorder=6)
        if row == n - 1:
            ax.set_xticklabels(tick_text[col], rotation=45)
            ax.set_xlabel(labels[col], fontsize=12.6, labelpad=xlabel_pads[col])
        else:
            ax.set_xticklabels([])
        if col == 0 and row > 0:
            ax.set_yticklabels(tick_text[row], rotation=45)
            ax.set_ylabel(labels[row], fontsize=12.6)
        elif row != col:
            ax.set_yticklabels([])

handles = [Line2D([], [], color=BLUE, lw=1.7), Line2D([], [], color=ORANGE, lw=1.7),
           Line2D([], [], color='black', lw=1.5, ls=':')]
fig.legend(handles, ['labrador', r'labrador reweighted ($\varepsilon = 0.017$)', 'Nested sampling (cogwheel)'],
           loc='upper right', bbox_to_anchor=(1024 / 1027, 1 - 45 / 1094), frameon=False, fontsize=12.6,
           labelspacing=0.42, borderaxespad=0)
fig.text(1007 / 1027, 1 - 14 / 1094, '$13$', math_fontfamily='cm', fontsize=15, ha='center', va='center')
fig.savefig('out.png', dpi=100)
